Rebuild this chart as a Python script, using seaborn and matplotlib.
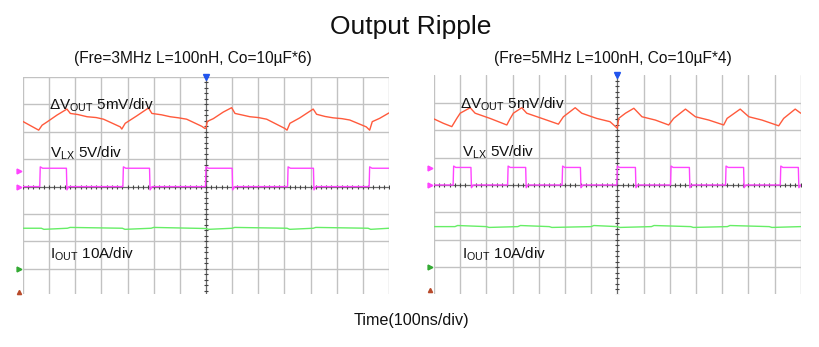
import numpy as np
import pandas as pd
import matplotlib
matplotlib.use("Agg")
import matplotlib.pyplot as plt
import seaborn as sns

# ---------------- data (time and amplitude in screen divisions; 100 ns/div) ----------------
# Left panel: Fre=3MHz, Co=10uF*6
left_vout_t = [-7.03, -6.40, -6.27, -6.08, -5.70, -5.32, -5.19, -4.90, -4.55, -4.20, -3.92, -3.28, -3.22, -3.09,
               -2.65, -2.20, -2.07, -1.70, -1.37, -1.05, -0.74, -0.16, -0.04, 0.0, 0.05, 0.28, 0.66, 0.98, 1.11,
               1.40, 1.68, 2.00, 2.32, 3.02, 3.10, 3.21, 3.59, 4.10, 4.23, 4.55, 4.86, 5.20, 5.50, 6.13, 6.26,
               6.36, 6.64, 7.02]
left_vout_v = [2.39, 2.06, 2.24, 2.36, 2.61, 2.83, 2.67, 2.63, 2.55, 2.52, 2.46, 2.18, 2.10, 2.31,
               2.58, 2.87, 2.67, 2.62, 2.55, 2.51, 2.46, 2.20, 2.12, 2.14, 2.38, 2.48, 2.72, 2.88, 2.67,
               2.61, 2.55, 2.52, 2.46, 2.12, 2.06, 2.31, 2.51, 2.83, 2.64, 2.56, 2.51, 2.48, 2.43, 2.18, 2.06,
               2.37, 2.49, 2.70]

left_vlx_t = [-7.0, -6.36, -6.34, -6.25, -5.34, -5.32, -5.25, -3.18, -3.16, -3.07, -2.16, -2.14, -2.06,
              -0.02, 0.0, 0.09, 1.0, 1.02, 1.10, 3.12, 3.14, 3.23, 4.11, 4.13, 4.20, 6.24, 6.26, 6.35, 7.0]
left_vlx_v = [0.0, 0.0, 0.72, 0.67, 0.67, -0.12, 0.0, 0.0, 0.72, 0.67, 0.67, -0.12, 0.0,
              0.0, 0.72, 0.67, 0.67, -0.12, 0.0, 0.0, 0.72, 0.67, 0.67, -0.12, 0.0, 0.0, 0.72, 0.67, 0.67]

left_iout_t = [-7.0, -6.3, -6.2, -5.3, -5.2, -3.2, -3.1, -2.1, -2.0, 0.0, 0.1, 1.0, 1.1, 3.1, 3.2, 4.1, 4.2, 6.2, 6.3, 7.0]
left_iout_v = [-1.52, -1.52, -1.56, -1.52, -1.49, -1.52, -1.56, -1.52, -1.49, -1.53, -1.56, -1.52, -1.49,
               -1.52, -1.56, -1.52, -1.49, -1.52, -1.56, -1.52]

# Right panel: Fre=5MHz, Co=10uF*4
right_vout_t = [-7.00, -6.64, -6.32, -6.13, -6.00, -5.62, -5.43, -4.86, -4.22, -4.10, -3.97, -3.65,
                -3.46, -2.82, -2.25, -2.06, -1.61, -1.36, -0.79, -0.28, -0.14, 0.0, 0.05, 0.31, 0.63,
                0.94, 1.45, 1.96, 2.15, 2.60, 2.98, 3.49, 4.06, 4.19, 4.69, 5.02, 5.52, 6.16, 6.35, 6.79, 7.0]
right_vout_v = [2.41, 2.25, 2.13, 2.43, 2.62, 2.82, 2.62, 2.43, 2.19, 2.41, 2.62, 2.82,
                2.62, 2.41, 2.22, 2.49, 2.82, 2.62, 2.43, 2.31, 2.19, 2.07, 2.43, 2.62, 2.80,
                2.49, 2.37, 2.19, 2.43, 2.77, 2.49, 2.37, 2.19, 2.43, 2.77, 2.49, 2.37, 2.16, 2.43, 2.77, 2.62]

right_vlx_t = [-7.0, -6.27, -6.25, -6.17, -5.59, -5.57, -5.50, -4.19, -4.17, -4.09, -3.50, -3.48, -3.41,
               -2.11, -2.09, -2.01, -1.41, -1.39, -1.32, -0.02, 0.0, 0.08, 0.69, 0.71, 0.78,
               2.03, 2.05, 2.13, 2.75, 2.77, 2.84, 4.13, 4.15, 4.23, 4.82, 4.84, 4.91,
               6.22, 6.24, 6.32, 6.91, 6.93, 7.0]
right_vlx_v = [0.0, 0.0, 0.69, 0.64, 0.64, -0.10, 0.0, 0.0, 0.69, 0.64, 0.64, -0.10, 0.0,
               0.0, 0.69, 0.64, 0.64, -0.10, 0.0, 0.0, 0.69, 0.64, 0.64, -0.10, 0.0,
               0.0, 0.69, 0.64, 0.64, -0.10, 0.0, 0.0, 0.69, 0.64, 0.64, -0.10, 0.0,
               0.0, 0.69, 0.64, 0.64, -0.10, 0.0]

right_iout_t = [-7.0, -6.2, -6.1, -5.0, -4.9, -3.8, -3.7, -2.6, -2.5, -1.0, -0.9, 0.0, 0.1, 1.3, 1.4, 2.8, 2.9, 4.2, 4.3, 5.8, 5.9, 7.0]
right_iout_v = [-1.52, -1.52, -1.48, -1.52, -1.55, -1.52, -1.48, -1.52, -1.55, -1.52, -1.48, -1.52,
                -1.55, -1.52, -1.48, -1.52, -1.55, -1.52, -1.48, -1.52, -1.55, -1.52]

titles = ["(Fre=3MHz L=100nH, Co=10\u00b5F*6)", "(Fre=5MHz L=100nH, Co=10\u00b5F*4)"]
ch_labels = [r"$\Delta$V$_{\mathrm{OUT}}$ 5mV/div", r"V$_{\mathrm{LX}}$ 5V/div", r"I$_{\mathrm{OUT}}$ 10A/div"]

# ---------------- style ----------------
sns.set_theme(style="white")
plt.rcParams["font.family"] = ["Liberation Sans", "DejaVu Sans"]
plt.rcParams["mathtext.fontset"] = "custom"
plt.rcParams["mathtext.rm"] = "Liberation Sans"
plt.rcParams["mathtext.it"] = "Liberation Sans:italic"
plt.rcParams["mathtext.bf"] = "Liberation Sans:bold"

RED = "#ff5a3c"
PINK = "#ff44ff"
GREEN = "#66ee66"
GRID = "#c2c2c2"
CENTER = "#6a6a6a"

W, H = 820, 347
fig = plt.figure(figsize=(W / 100, H / 100), dpi=100)
axL = fig.add_axes([23 / W, 1 - 294 / H, 366 / W, 217 / H])
axR = fig.add_axes([434 / W, 1 - 294 / H, 366.7 / W, 218.6 / H])


def panel(ax, ylo, top_line, vt, vv, lt, lv, it, iv, label_pos, mark_y):
    ax.set_xlim(-7, 7)
    ax.set_ylim(ylo, 4.0)
    for s in ax.spines.values():
        s.set_visible(False)
    ax.set_xticks([])
    ax.set_yticks([])
    for x in range(-7, 8):
        ax.axvline(x, color=GRID, lw=1.0, zorder=0)
    for y in range(-3, 5 if top_line else 4):
        ax.axhline(y, color=GRID, lw=1.0, zorder=0)
    ax.axvline(0, color=CENTER, lw=0.8, zorder=1)
    ax.axhline(0, color=CENTER, lw=0.8, zorder=1)
    tx = np.arange(-7, 7.01, 0.2)
    ax.plot(tx, np.zeros_like(tx), ls="none", marker="|", ms=3, mew=0.8, color="#444444", zorder=1)
    ty = np.arange(-4, 4.01, 0.2)
    ax.plot(np.zeros_like(ty), ty, ls="none", marker="_", ms=3, mew=0.8, color="#444444", zorder=1)

    sns.lineplot(x=it, y=iv, ax=ax, color=GREEN, lw=1.0, sort=False, estimator=None, zorder=3)
    sns.lineplot(x=lt, y=lv, ax=ax, color=PINK, lw=1.0, sort=False, estimator=None, zorder=3)
    sns.lineplot(x=vt, y=vv, ax=ax, color=RED, lw=1.0, sort=False, estimator=None, zorder=4)

    for (x, y), txt in zip(label_pos, ch_labels):
        ax.text(x, y, txt, fontsize=11, ha="left", va="baseline", color="#111111", zorder=5)

    # channel reference markers (left edge) and trigger marker (top)
    mx = -7.16
    ax.plot(mx, mark_y[0], marker=">", ms=3.5, color=PINK, clip_on=False)
    ax.plot(mx, 0, marker=">", ms=3.5, color=PINK, clip_on=False)
    ax.plot(mx, -3.0, marker=">", ms=3.5, color="#33aa33", clip_on=False)
    ax.plot(mx, -3.84, marker="^", ms=3, color="#b84a2a", clip_on=False)
    ax.plot(0, 4.0, marker="v", ms=5, color="#2255ee", clip_on=False, zorder=6)


panel(axL, -3.92, True, left_vout_t, left_vout_v, left_vlx_t, left_vlx_v, left_iout_t, left_iout_v,
      [(-6.0, 2.82), (-5.95, 1.07), (-5.95, -2.64)], [0.57])
panel(axR, -3.98, False, right_vout_t, right_vout_v, right_vlx_t, right_vlx_v, right_iout_t, right_iout_v,
      [(-6.0, 2.80), (-5.95, 1.03), (-5.95, -2.70)], [0.61])

fig.text(411 / W, 1 - 27 / H, "Output Ripple", ha="center", va="center", fontsize=19, color="#111111")
fig.text(193 / W, 1 - 58 / H, titles[0], ha="center", va="center", fontsize=11.2, color="#111111")
fig.text(613 / W, 1 - 58 / H, titles[1], ha="center", va="center", fontsize=11.2, color="#111111")
fig.text(411 / W, 1 - 320 / H, "Time(100ns/div)", ha="center", va="center", fontsize=11.6, color="#111111")

fig.savefig("out.png", dpi=100)
